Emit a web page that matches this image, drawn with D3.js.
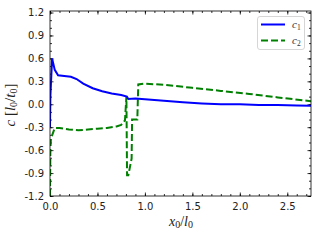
<!DOCTYPE html>
<html><head><meta charset="utf-8">
<script src="https://cdn.jsdelivr.net/npm/d3@7/dist/d3.min.js"></script>
<style>body{margin:0;background:#fff}svg{display:block}</style>
</head><body>
<svg id="c" width="320" height="240"></svg>
<script>
const c1X = [0, 0.004, 0.022, 0.05, 0.085, 0.15, 0.22, 0.28, 0.35, 0.45, 0.55, 0.65, 0.75, 0.81, 0.825, 0.9, 1.0, 1.2, 1.4, 1.6, 1.8, 2.0, 2.2, 2.4, 2.6, 2.75];
const c1Y = [-0.3, 0.1, 0.6, 0.45, 0.38, 0.37, 0.36, 0.33, 0.27, 0.21, 0.17, 0.14, 0.12, 0.10, 0.07, 0.075, 0.065, 0.045, 0.025, 0.01, 0.0, 0.0, -0.01, -0.01, -0.015, -0.02];
const c2X = [0, 0.004, 0.01, 0.05, 0.1, 0.2, 0.3, 0.4, 0.5, 0.6, 0.7, 0.75, 0.79, 0.805, 0.812, 0.825, 0.86, 0.865, 0.92, 0.93, 1.0, 1.2, 1.5, 1.8, 2.1, 2.4, 2.75];
const c2Y = [-1.2, -0.6, -0.45, -0.31, -0.31, -0.33, -0.34, -0.33, -0.32, -0.31, -0.29, -0.27, -0.21, 0.1, -0.93, -0.93, -0.71, -0.2, -0.2, 0.26, 0.27, 0.255, 0.215, 0.175, 0.135, 0.09, 0.04];
const xTicks = [0, 0.5, 1.0, 1.5, 2.0, 2.5];
const yTicks = [-1.2, -0.9, -0.6, -0.3, 0.0, 0.3, 0.6, 0.9, 1.2];
const seriesNames = ["c", "c"];
const seriesSubs = ["1", "2"];

const svg = d3.select("#c");
const L = 50, R = 311, T = 11, B = 196;
const x = d3.scaleLinear().domain([0, 2.75]).range([L, R]);
const y = d3.scaleLinear().domain([-1.2, 1.22]).range([B, T]);

const xMinor = d3.range(0, 2.751, 0.1).map(v => +v.toFixed(2));
const yMinor = d3.range(-1.2, 1.2001, 0.1).map(v => +v.toFixed(2));
const fmt = v => v.toFixed(1);

function styleAxis(g){ g.select(".domain").remove(); g.selectAll("line").attr("stroke","#000").attr("stroke-width",0.8); g.selectAll("text").attr("font-family","DejaVu Sans").attr("font-size",10).attr("fill","#222"); }

// bottom
svg.append("g").attr("transform",`translate(0,${B})`).call(d3.axisBottom(x).tickValues(xMinor).tickSize(-2).tickFormat("")).call(styleAxis);
svg.append("g").attr("transform",`translate(0,${B})`).call(d3.axisBottom(x).tickValues(xTicks).tickSize(-3.5).tickPadding(7).tickFormat(fmt)).call(styleAxis);
// top
svg.append("g").attr("transform",`translate(0,${T})`).call(d3.axisTop(x).tickValues(xMinor).tickSize(-2).tickFormat("")).call(styleAxis);
svg.append("g").attr("transform",`translate(0,${T})`).call(d3.axisTop(x).tickValues(xTicks).tickSize(-3.5).tickFormat("")).call(styleAxis);
// left
svg.append("g").attr("transform",`translate(${L},0)`).call(d3.axisLeft(y).tickValues(yMinor).tickSize(-2).tickFormat("")).call(styleAxis);
svg.append("g").attr("transform",`translate(${L},0)`).call(d3.axisLeft(y).tickValues(yTicks).tickSize(-3.5).tickPadding(6).tickFormat(fmt)).call(styleAxis);
// right
svg.append("g").attr("transform",`translate(${R},0)`).call(d3.axisRight(y).tickValues(yMinor).tickSize(-2).tickFormat("")).call(styleAxis);
svg.append("g").attr("transform",`translate(${R},0)`).call(d3.axisRight(y).tickValues(yTicks).tickSize(-3.5).tickFormat("")).call(styleAxis);

svg.append("clipPath").attr("id","pc").append("rect").attr("x",L).attr("y",T).attr("width",R-L).attr("height",B-T);
const line = d3.line().x(d=>x(d[0])).y(d=>y(d[1]));
const g = svg.append("g").attr("clip-path","url(#pc)");
g.append("path").datum(c2X.map((v,i)=>[v,c2Y[i]])).attr("d",line).attr("fill","none").attr("stroke","#008000").attr("stroke-width",2).attr("stroke-dasharray","7,3");
g.append("path").datum(c1X.map((v,i)=>[v,c1Y[i]])).attr("d",line).attr("fill","none").attr("stroke","#0000ff").attr("stroke-width",2);

svg.append("rect").attr("x",L).attr("y",T).attr("width",R-L).attr("height",B-T).attr("fill","none").attr("stroke","#000").attr("stroke-width",0.8);

// legend
const lg = svg.append("g");
lg.append("rect").attr("x",257.5).attr("y",16.5).attr("width",47).attr("height",33).attr("rx",2.5).attr("fill","#fff").attr("fill-opacity",0.8).attr("stroke","#ccc").attr("stroke-width",0.8);
const colors = ["#0000ff","#008000"], dashes = [null,"7,3"];
seriesNames.forEach((n,i)=>{
  const yy = 24.5 + i*16;
  lg.append("line").attr("x1",261).attr("x2",285).attr("y1",yy).attr("y2",yy).attr("stroke",colors[i]).attr("stroke-width",2).attr("stroke-dasharray",dashes[i]);
  const t = lg.append("text").attr("x",292).attr("y",yy+3.5).attr("font-family","Liberation Serif").attr("font-size",11).attr("fill","#333");
  t.append("tspan").attr("font-style","italic").text(n);
  t.append("tspan").attr("font-size",7.5).attr("dy",2).text(seriesSubs[i]);
});

// axis labels
const xl = svg.append("text").attr("x",181).attr("y",226).attr("text-anchor","middle").attr("font-family","Liberation Serif").attr("font-size",14).attr("fill","#222");
xl.append("tspan").attr("font-style","italic").text("x");
xl.append("tspan").attr("font-size",10).attr("dy",2).text("0");
xl.append("tspan").attr("dy",-2).text("/");
xl.append("tspan").attr("font-style","italic").text("l");
xl.append("tspan").attr("font-size",10).attr("dy",2).text("0");

const yl = svg.append("text").attr("transform","translate(15,105) rotate(-90)").attr("text-anchor","middle").attr("font-family","Liberation Serif").attr("font-size",15).attr("fill","#222");
yl.append("tspan").attr("font-style","italic").text("c");
yl.append("tspan").text(" [");
yl.append("tspan").attr("font-style","italic").text("l");
yl.append("tspan").attr("font-size",10).attr("dy",2).text("0");
yl.append("tspan").attr("dy",-2).text("/");
yl.append("tspan").attr("font-style","italic").text("t");
yl.append("tspan").attr("font-size",10).attr("dy",2).text("0");
yl.append("tspan").attr("dy",-2).text("]");
</script>
</body></html>
